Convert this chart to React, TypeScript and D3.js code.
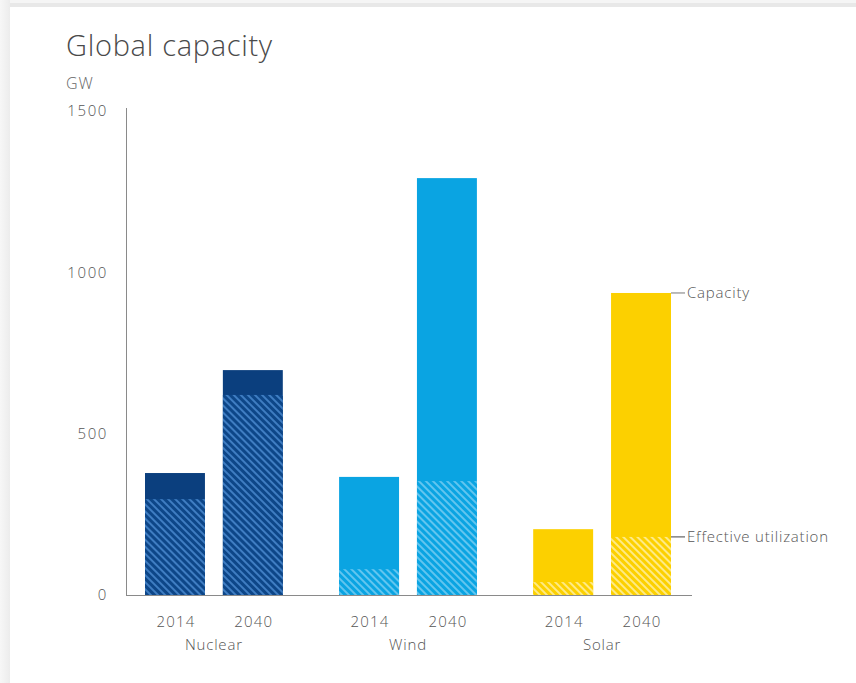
import React from "react";
import * as d3 from "d3";

const categories = ["Nuclear", "Wind", "Solar"];
const years = ["2014", "2040"];
const capacity2014 = [378, 366, 204];
const capacity2040 = [697, 1292, 936];
const effective2014 = [297, 80, 40];
const effective2040 = [620, 353, 180];
const yTicks = [0, 500, 1000, 1500];

const solidColors = ["#0b3f7e", "#0aa4e2", "#fcd000"];
const hatchBase = ["#0d4688", "#0aa4e2", "#fcd000"];
const hatchStripe = ["#3f7dc2", "#62c5ef", "#feea86"];

const W = 856;
const H = 683;
const FONT = "'Open Sans', 'Noto Sans', sans-serif";

export default function App() {
  const x0 = d3.scaleBand<string>().domain(categories).range([145, 671]).paddingInner(0.29).paddingOuter(0);
  const x1 = d3.scaleBand<string>().domain(years).range([0, x0.bandwidth()]).paddingInner(0.23).paddingOuter(0);
  const y = d3.scaleLinear().domain([0, 1500]).range([595, 111]);

  const capacity = [capacity2014, capacity2040];
  const effective = [effective2014, effective2040];

  const bars: any[] = [];
  categories.forEach((c, ci) => {
    years.forEach((yr, yi) => {
      bars.push({
        key: c + yr,
        ci,
        x: (x0(c) as number) + (x1(yr) as number),
        w: x1.bandwidth(),
        cap: capacity[yi][ci],
        eff: effective[yi][ci],
        yr,
      });
    });
  });

  const lastCat = categories[categories.length - 1];
  const lastYear = years[years.length - 1];
  const annX = (x0(lastCat) as number) + (x1(lastYear) as number) + x1.bandwidth();
  const annCap = capacity2040[categories.length - 1];
  const annEff = effective2040[categories.length - 1];

  const label = { fontSize: 15, fontWeight: 300, fill: "#555", letterSpacing: 0.8 } as any;

  return (
    <svg width={W} height={H} style={{ position: "absolute", left: 0, top: 0 }} fontFamily={FONT}>
      <defs>
        {categories.map((c, i) => (
          <pattern key={c} id={`hatch-${i}`} patternUnits="userSpaceOnUse" width={5} height={5} patternTransform="rotate(-45)">
            <rect width={5} height={5} fill={hatchBase[i]} />
            <rect x={0} y={0} width={2} height={5} fill={hatchStripe[i]} />
          </pattern>
        ))}
        <linearGradient id="leftShade" x1="0" x2="1" y1="0" y2="0">
          <stop offset="0" stopColor="#f7f7f7" />
          <stop offset="1" stopColor="#ececec" />
        </linearGradient>
      </defs>
      <rect width={W} height={H} fill="#f5f5f5" />
      <rect x={0} y={3} width={W} height={4} fill="#e8e8e8" />
      <rect x={0} y={0} width={10} height={H} fill="url(#leftShade)" />
      <rect x={10} y={7} width={W - 10} height={H - 7} fill="#ffffff" />

      <text x={66} y={56} fontSize={29} fontWeight={300} fill="#4a4a4a" letterSpacing={0.7}>Global capacity</text>
      <text x={66} y={89} fontSize={16} fontWeight={300} fill="#666" letterSpacing={1}>GW</text>

      {yTicks.map((t) => (
        <text key={t} x={108} y={y(t)} dy="0.35em" textAnchor="end" {...label} letterSpacing={1.6}>
          {t}
        </text>
      ))}

      {bars.map((b) => (
        <g key={b.key}>
          <rect x={b.x} y={y(b.cap)} width={b.w} height={y(0) - y(b.cap)} fill={solidColors[b.ci]} />
          <rect x={b.x} y={y(b.eff)} width={b.w} height={y(0) - y(b.eff)} fill={`url(#hatch-${b.ci})`} />
          <text x={b.x + b.w / 2 + 1} y={627} textAnchor="middle" {...label} letterSpacing={1.2}>
            {b.yr}
          </text>
        </g>
      ))}

      {categories.map((c) => (
        <text key={c} x={(x0(c) as number) + x0.bandwidth() / 2} y={650} textAnchor="middle" {...label}>
          {c}
        </text>
      ))}

      <line x1={126.5} x2={126.5} y1={108} y2={y(0)} stroke="#8a8a8a" strokeWidth={1} />
      <line x1={126} x2={692} y1={y(0) + 0.5} y2={y(0) + 0.5} stroke="#8a8a8a" strokeWidth={1} />

      <line x1={annX} x2={annX + 14} y1={y(annCap)} y2={y(annCap)} stroke="#777" strokeWidth={1} />
      <text x={annX + 16} y={y(annCap)} dy="0.35em" {...label}>Capacity</text>
      <line x1={annX} x2={annX + 14} y1={y(annEff)} y2={y(annEff)} stroke="#444" strokeWidth={1} />
      <text x={annX + 16} y={y(annEff)} dy="0.35em" {...label}>Effective utilization</text>
    </svg>
  );
}
